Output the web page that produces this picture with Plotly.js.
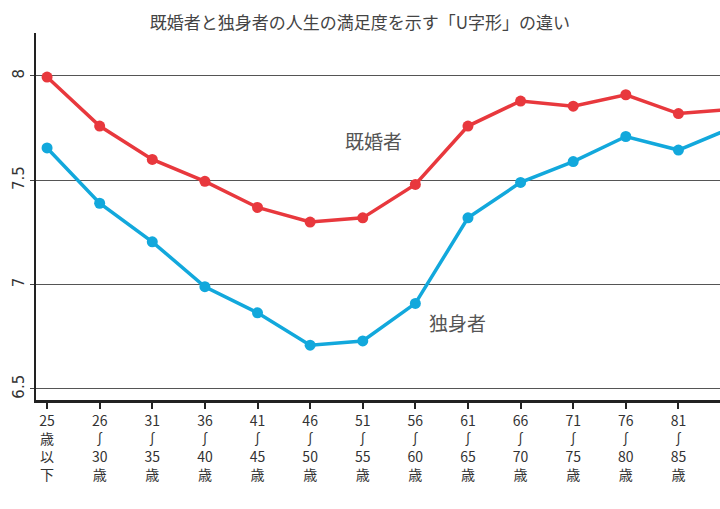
<!DOCTYPE html><html><head><meta charset="utf-8"><script src="https://cdn.plot.ly/plotly-3.0.1.min.js"></script></head><body style="margin:0"><div id="c" style="width:720px;height:509px"></div><script>
const categories=["25<br>歳<br>以<br>下","26<br>∫<br>30<br>歳","31<br>∫<br>35<br>歳","36<br>∫<br>40<br>歳","41<br>∫<br>45<br>歳","46<br>∫<br>50<br>歳","51<br>∫<br>55<br>歳","56<br>∫<br>60<br>歳","61<br>∫<br>65<br>歳","66<br>∫<br>70<br>歳","71<br>∫<br>75<br>歳","76<br>∫<br>80<br>歳","81<br>∫<br>85<br>歳","86<br>歳<br>以<br>上"];
const married=[7.995,7.76,7.60,7.495,7.37,7.30,7.32,7.48,7.76,7.88,7.855,7.91,7.82,7.84];
const single=[7.655,7.39,7.205,6.99,6.865,6.71,6.73,6.91,7.32,7.49,7.59,7.71,7.645,7.75];
const yTicks=[6.5,7,7.5,8];
const idx=categories.map((_,i)=>i);
const f="Noto Sans CJK JP";
Plotly.newPlot("c",[
{x:idx,y:married,mode:"lines+markers",line:{color:"#e8383d",width:3.5},marker:{size:11,color:"#e8383d"},cliponaxis:true},
{x:idx,y:single,mode:"lines+markers",line:{color:"#12a8dc",width:3.5},marker:{size:11,color:"#12a8dc"},cliponaxis:true}
],{width:720,height:509,margin:{l:36,r:0,t:33,b:109},showlegend:false,paper_bgcolor:"#fff",plot_bgcolor:"#fff",
title:{text:"既婚者と独身者の人生の満足度を示す「U字形」の違い",font:{family:f,size:17,color:"#444"},x:0.5,y:0.955,yanchor:"middle"},
xaxis:{range:[-0.21,12.79],tickvals:idx,ticktext:categories,tickfont:{family:f,size:14,color:"#333"},ticks:"outside",ticklen:6,tickwidth:2,tickcolor:"#222",showline:true,linewidth:3,linecolor:"#222",showgrid:false,zeroline:false},
yaxis:{range:[6.447,8.206],tickvals:yTicks,ticktext:yTicks.map(String),tickangle:-90,tickfont:{family:"DejaVu Sans",size:15,color:"#333"},showline:true,linewidth:2,linecolor:"#222",gridcolor:"#555",gridwidth:1,zeroline:false,ticks:"outside",ticklen:4},
annotations:[{x:6.2,y:7.69,text:"既婚者",showarrow:false,font:{family:f,size:19,color:"#555"}},
{x:7.8,y:6.82,text:"独身者",showarrow:false,font:{family:f,size:19,color:"#555"}}]
},{staticPlot:true});
</script></body></html>
